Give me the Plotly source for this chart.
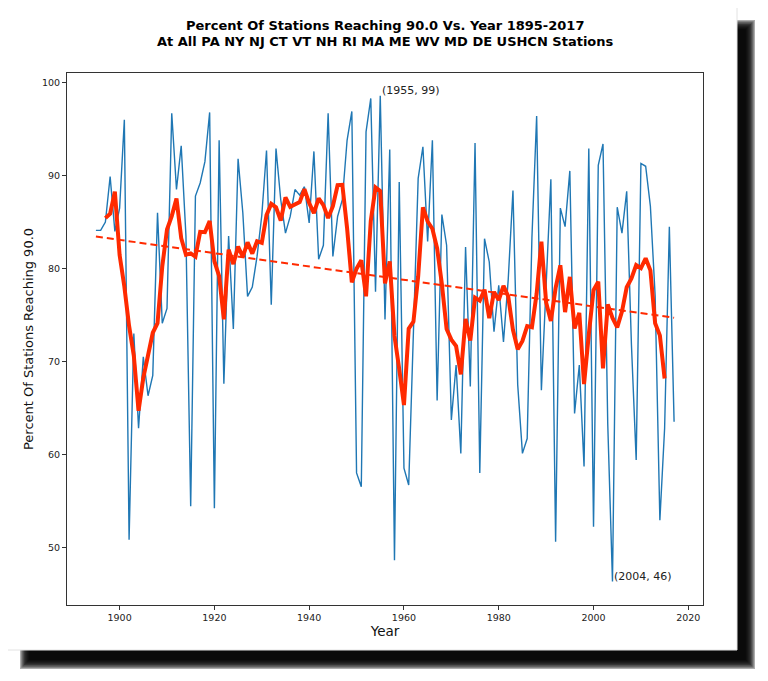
# -*- coding: utf-8 -*-
"""
Percent of USHCN stations (PA NY NJ CT VT NH RI MA ME WV MD DE) reaching 90.0
per year, 1895-2017. Blue = yearly value, red = 5 year running mean,
dashed red = linear trend. Max and min years are labelled.
"""

import numpy as np
import plotly.graph_objects as go

## yearly values
years = list(range(1895, 2018))
pct = [84.1, 84.1, 85.0, 89.9, 84.0, 86.5, 96.0, 50.8, 73.0, 62.8,   # 1895-1904
       70.5, 66.3, 68.5, 86.0, 74.1, 75.7, 96.7, 88.5, 93.2, 83.5,   # 1905-1914
       54.4, 87.8, 89.2, 91.5, 96.8, 54.2, 93.8, 67.6, 83.5, 73.5,   # 1915-1924
       91.8, 86.0, 77.0, 78.0, 81.3, 85.7, 92.7, 76.1, 92.9, 87.4,   # 1925-1934
       83.8, 85.6, 88.5, 87.9, 88.8, 84.9, 92.6, 81.0, 82.5, 96.7,   # 1935-1944
       81.3, 85.6, 87.4, 93.8, 96.9, 58.0, 56.5, 94.7, 98.3, 77.5,   # 1945-1954
       98.6, 74.5, 92.8, 48.6, 89.3, 58.5, 56.7, 73.4, 89.7, 93.1,   # 1955-1964
       82.9, 93.8, 65.8, 85.8, 82.5, 63.7, 69.6, 60.1, 82.3, 67.3,   # 1965-1974
       93.5, 58.0, 83.2, 80.7, 73.2, 78.2, 72.1, 78.8, 88.4, 67.5,   # 1975-1984
       60.1, 61.7, 83.3, 96.4, 66.9, 78.2, 89.6, 50.6, 86.5, 84.5,   # 1985-1994
       90.5, 64.4, 69.6, 58.7, 92.9, 52.2, 91.1, 93.4, 63.3, 46.3,   # 1995-2004
       86.6, 83.8, 88.3, 71.8, 59.4, 91.3, 91.0, 86.7, 77.1, 52.9,   # 2005-2014
       62.8, 84.5, 63.5]                                            # 2015-2017

xticks = [1900, 1920, 1940, 1960, 1980, 2000, 2020]
yticks = [50, 60, 70, 80, 90, 100]

title_lines = ["Percent Of Stations Reaching 90.0 Vs. Year 1895-2017",
               "At All PA NY NJ CT VT NH RI MA ME WV MD DE USHCN Stations"]
xlabel = "Year"
ylabel = "Percent Of Stations Reaching 90.0"

window = 5 ## running mean length (centred)

## the page body has an 8px margin, so the figure is drawn 8px smaller
## and all screen positions below are shifted by OFF
OFF = 8
W, H = 768 - 2 * OFF, 681 - 2 * OFF
L, R, T, B = 67 - OFF, 703 - OFF, 73 - OFF, 605 - OFF  ## plot box in figure px

def px_x(p): ## screen pixel -> paper x
    return (p - OFF - L) / (R - L)

def px_y(p): ## screen pixel -> paper y
    return (B - (p - OFF)) / (B - T)

yrs = np.array(years)
vals = np.array(pct)
run_mean = np.convolve(vals, np.ones(window) / window, mode="valid")
run_years = yrs[window // 2: len(yrs) - window // 2]
slope, icpt = np.polyfit(yrs, vals, 1)
trend = slope * yrs + icpt

i_max = int(np.argmax(vals))
i_min = int(np.argmin(vals))

red = "#ff2a00"
font = "DejaVu Sans"

fig = go.Figure()
fig.add_trace(go.Scatter(x=years, y=pct, mode="lines",
                         line=dict(color="#1f77b4", width=1.4)))
fig.add_trace(go.Scatter(x=run_years, y=run_mean, mode="lines",
                         line=dict(color=red, width=4)))
fig.add_trace(go.Scatter(x=years, y=trend, mode="lines",
                         line=dict(color=red, width=2, dash="7px,4px")))

for i in (i_max, i_min):
    fig.add_annotation(x=years[i], y=pct[i], xref="x", yref="y",
                       text="(%d, %d)" % (years[i], round(pct[i])),
                       showarrow=False, xanchor="left", yanchor="bottom",
                       yshift=-3, font=dict(size=11, color="#222", family=font))

## two line bold title, one annotation per line (tighter spacing than <br>)
for line_txt, ypx in zip(title_lines, (26, 41)):
    fig.add_annotation(x=0.5, y=px_y(ypx), xref="paper", yref="paper",
                       text="<b>%s</b>" % line_txt, showarrow=False,
                       xanchor="center", yanchor="middle",
                       font=dict(size=13, color="black", family=font))

## card with drop shadow behind everything
shapes = []
for k in range(8):
    d = k * 1.3
    shapes.append(dict(type="rect", xref="paper", yref="paper", layer="below",
                       x0=px_x(20 + d), x1=px_x(755 - d),
                       y0=px_y(669 - d), y1=px_y(20 + d),
                       fillcolor="black", opacity=0.32, line=dict(width=0)))
shapes.append(dict(type="rect", xref="paper", yref="paper", layer="below",
                   x0=px_x(7), x1=px_x(737), y0=px_y(650), y1=px_y(7),
                   fillcolor="white", line=dict(color="#e2e2e2", width=1)))

axis_style = dict(showgrid=False, zeroline=False, showline=True, mirror=True,
                  linecolor="#333", linewidth=1, ticks="outside", ticklen=4,
                  tickcolor="#333", tickfont=dict(size=9.5, color="#222", family=font))

fig.update_layout(
    width=W, height=H,
    margin=dict(l=L, r=W - R, t=T, b=H - B),
    paper_bgcolor="white", plot_bgcolor="rgba(0,0,0,0)",
    showlegend=False,
    shapes=shapes,
    xaxis=dict(range=[1888.9, 2023.1], tickvals=xticks,
               title=dict(text=xlabel, standoff=3,
                          font=dict(size=13.5, color="#111", family=font)),
               **axis_style),
    yaxis=dict(range=[43.78, 101.04], tickvals=yticks,
               title=dict(text=ylabel, standoff=5,
                          font=dict(size=13, color="#111", family=font)),
               **axis_style),
)

fig.write_html("out.html")
